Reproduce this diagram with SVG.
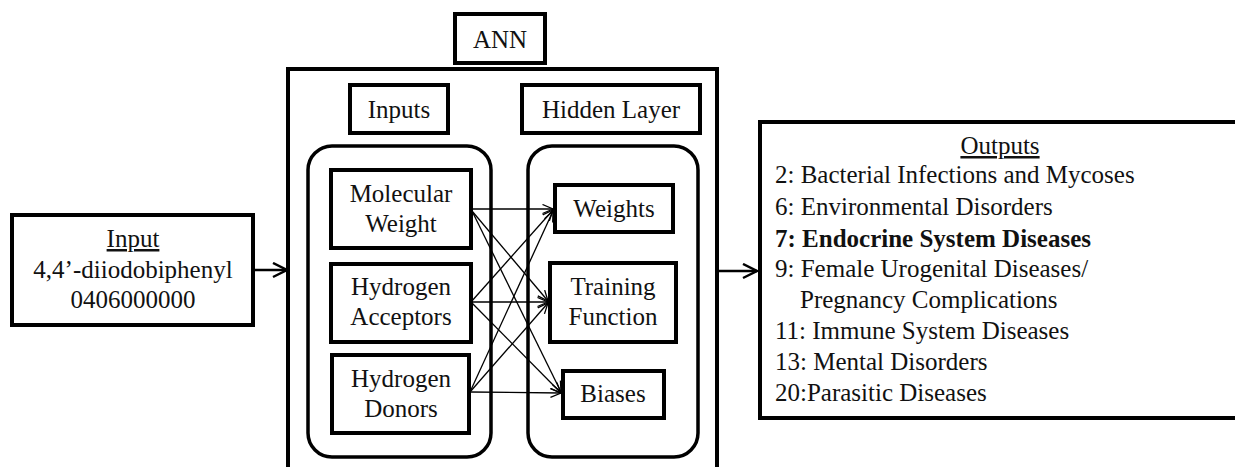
<svg xmlns="http://www.w3.org/2000/svg" width="1235" height="467" viewBox="0 0 1235 467">
<style>
text{font-family:"Liberation Serif","Times New Roman",Times,"DejaVu Serif","Noto Serif",serif;font-size:25px;fill:#111}
.c{text-anchor:middle}
.box{fill:none;stroke:#000;stroke-width:4}
.rbox{fill:none;stroke:#000;stroke-width:3.5}
.big{fill:none;stroke:#000;stroke-width:2.5}
.thin{fill:none;stroke:#000;stroke-width:1.3}
.u{text-decoration:underline}
.b{font-weight:bold}
</style>
<defs>
<marker id="ab" markerUnits="userSpaceOnUse" markerWidth="20" markerHeight="20" refX="15" refY="8" orient="auto">
<path d="M1,1 L15,8 L1,15" fill="none" stroke="#000" stroke-width="2.5"/>
</marker>
<marker id="as" markerUnits="userSpaceOnUse" markerWidth="14" markerHeight="12" refX="11" refY="5" orient="auto">
<path d="M0.5,0.5 L11,5 L0.5,9.5" fill="none" stroke="#000" stroke-width="1.3"/>
</marker>
</defs>
<rect width="1235" height="467" fill="#fff"/>

<g id="input">
<rect class="box" x="12" y="215" width="241" height="110"/>
<text class="c u" x="133" y="247">Input</text>
<text class="c" x="133" y="278">4,4’-diiodobiphenyl</text>
<text class="c" x="133" y="308">0406000000</text>
</g>

<g id="ann">
<rect class="box" x="288" y="69" width="429" height="440"/>
</g>
<g id="ann-label">
<rect class="box" x="455" y="14" width="90" height="49"/>
<text class="c" x="500" y="48">ANN</text>
</g>

<g id="inputs-label">
<rect class="box" x="350" y="85" width="98" height="48"/>
<text class="c" x="399" y="118">Inputs</text>
</g>
<g id="hidden-label">
<rect class="box" x="522" y="85" width="178" height="48"/>
<text class="c" x="611" y="118">Hidden Layer</text>
</g>

<g id="inputs-group">
<rect class="rbox" x="308" y="146" width="183" height="311" rx="24"/>
</g>
<g id="hidden-group">
<rect class="rbox" x="528" y="146" width="170" height="311" rx="24"/>
</g>

<g id="mw">
<rect class="box" x="331" y="170" width="140" height="78"/>
<text class="c" x="401" y="202">Molecular</text>
<text class="c" x="401" y="232">Weight</text>
</g>
<g id="ha">
<rect class="box" x="331" y="264" width="140" height="78"/>
<text class="c" x="401" y="295">Hydrogen</text>
<text class="c" x="401" y="325">Acceptors</text>
</g>
<g id="hd">
<rect class="box" x="332" y="355" width="137" height="78"/>
<text class="c" x="401" y="387">Hydrogen</text>
<text class="c" x="401" y="417">Donors</text>
</g>

<g id="weights">
<rect class="box" x="555" y="185" width="118" height="47"/>
<text class="c" x="614" y="217">Weights</text>
</g>
<g id="training">
<rect class="box" x="550" y="263" width="126" height="79"/>
<text class="c" x="613" y="295">Training</text>
<text class="c" x="613" y="325">Function</text>
</g>
<g id="biases">
<rect class="box" x="563" y="371" width="101" height="47"/>
<text class="c" x="613" y="402">Biases</text>
</g>

<g id="outputs">
<rect class="box" x="760" y="122" width="500" height="296"/>
<text class="c u" x="1000" y="154">Outputs</text>
<text x="775" y="183">2: Bacterial Infections and Mycoses</text>
<text x="775" y="215">6: Environmental Disorders</text>
<text class="b" x="775" y="247">7: Endocrine System Diseases</text>
<text x="775" y="277">9: Female Urogenital Diseases/</text>
<text x="800" y="308">Pregnancy Complications</text>
<text x="775" y="339">11: Immune System Diseases</text>
<text x="775" y="370">13: Mental Disorders</text>
<text x="775" y="401">20:Parasitic Diseases</text>
</g>

<g id="connectors">
<line class="big" x1="253" y1="270" x2="287" y2="270" marker-end="url(#ab)"/>
<line class="big" x1="717" y1="271" x2="757" y2="271" marker-end="url(#ab)"/>
<line class="thin" x1="472" y1="209" x2="553" y2="209" marker-end="url(#as)"/>
<line class="thin" x1="472" y1="211" x2="548" y2="301" marker-end="url(#as)"/>
<line class="thin" x1="472" y1="211" x2="561" y2="392" marker-end="url(#as)"/>
<line class="thin" x1="471" y1="302" x2="553" y2="210" marker-end="url(#as)"/>
<line class="thin" x1="471" y1="302" x2="548" y2="302" marker-end="url(#as)"/>
<line class="thin" x1="471" y1="302" x2="561" y2="393" marker-end="url(#as)"/>
<line class="thin" x1="470" y1="392" x2="553" y2="211" marker-end="url(#as)"/>
<line class="thin" x1="470" y1="392" x2="548" y2="303" marker-end="url(#as)"/>
<line class="thin" x1="470" y1="392" x2="561" y2="393" marker-end="url(#as)"/>
</g>
</svg>
